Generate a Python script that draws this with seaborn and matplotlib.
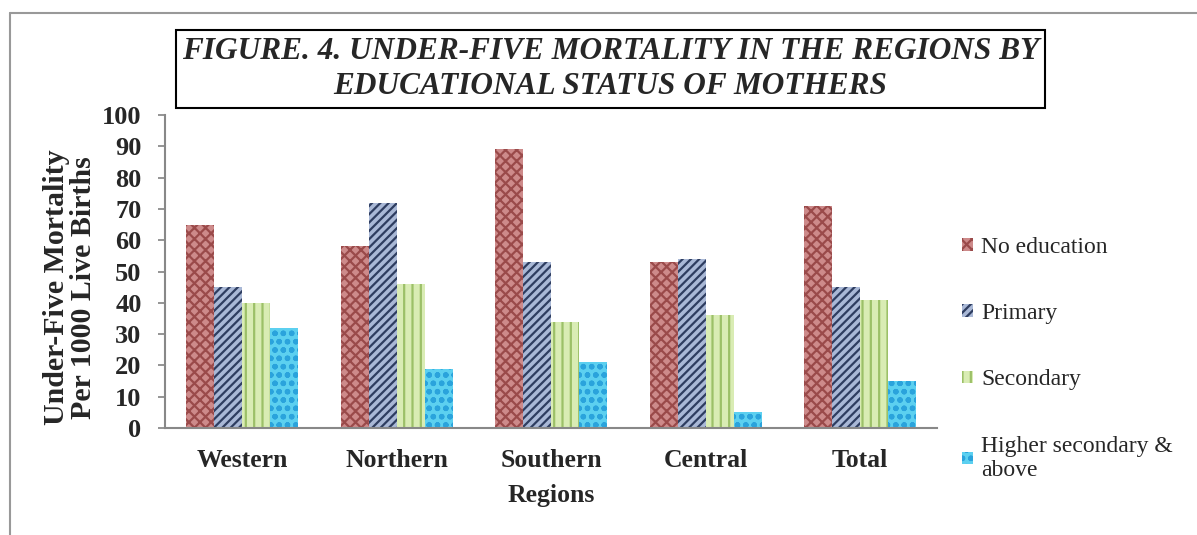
import matplotlib
matplotlib.use("Agg")
import matplotlib.pyplot as plt
import seaborn as sns
import pandas as pd
from matplotlib.lines import Line2D
from matplotlib.patches import Patch

regions = ["Western", "Northern", "Southern", "Central", "Total"]
levels = ["No education", "Primary", "Secondary", "Higher secondary &\nabove"]
no_education = [65, 58, 89, 53, 71]
primary = [45, 72, 53, 54, 45]
secondary = [40, 46, 34, 36, 41]
higher = [32, 19, 21, 5, 15]

rows = []
for lvl, vals in zip(levels, [no_education, primary, secondary, higher]):
    for r, v in zip(regions, vals):
        rows.append({"Region": r, "Level": lvl, "Value": v})
df = pd.DataFrame(rows)

sns.set_theme(style="white")
plt.rcParams["font.family"] = ["Liberation Serif", "DejaVu Serif"]
plt.rcParams["hatch.linewidth"] = 1.6

fig = plt.figure(figsize=(11.97, 5.35), dpi=100)
ax = fig.add_axes([0.138, 0.2, 0.645, 0.585])

face = ["#cd8a8a", "#a9b8d6", "#d9ecb4", "#5cd0f0"]
hatchc = ["#9a4a4a", "#2e3d60", "#9cc068", "#2aa3dc"]
hatches = ["xxx", "////", "||", "oo"]

sns.barplot(data=df, x="Region", y="Value", hue="Level", order=regions,
            hue_order=levels, width=0.725, ax=ax, legend=False,
            palette=face, saturation=1)
for i, cont in enumerate(ax.containers):
    for p in cont.patches:
        p.set_facecolor(face[i])
        p.set_edgecolor(hatchc[i])
        p.set_hatch(hatches[i])
        p.set_linewidth(0)

ax.set_ylim(0, 100)
ax.set_yticks(range(0, 101, 10))
ax.set_xlim(-0.5, 4.5)
for s in ["top", "right"]:
    ax.spines[s].set_visible(False)
for s in ["left", "bottom"]:
    ax.spines[s].set_color("#888888")
    ax.spines[s].set_linewidth(1.5)
ax.tick_params(axis="y", which="both", left=True, length=5, color="#888888",
               labelsize=19, pad=12)
ax.tick_params(axis="x", bottom=False, labelsize=18.5, pad=9)
for lab in ax.get_xticklabels() + ax.get_yticklabels():
    lab.set_fontweight("bold")
ax.set_xlabel("Regions", fontsize=18.5, fontweight="bold", labelpad=9)
ax.set_ylabel("Under-Five Mortality\nPer 1000 Live Births", fontsize=21.5,
              fontweight="bold", linespacing=1.0)
ax.yaxis.set_label_coords(-0.088, 0.45)

handles = [Patch(facecolor=face[i], edgecolor=hatchc[i], hatch=hatches[i],
                 linewidth=0) for i in range(4)]
fig.legend(handles, levels, loc="upper left", bbox_to_anchor=(0.796, 0.575),
           frameon=False, fontsize=17, handlelength=0.45, handleheight=0.45,
           handletextpad=0.35, labelspacing=1.92, borderaxespad=0)

fig.text(0.51, 0.871,
         "FIGURE. 4. UNDER-FIVE MORTALITY IN THE REGIONS BY\nEDUCATIONAL STATUS OF MOTHERS",
         ha="center", va="center", fontsize=22.5, fontweight="bold",
         fontstyle="italic", linespacing=1.3,
         bbox=dict(boxstyle="square,pad=0.2", facecolor="white",
                   edgecolor="black", linewidth=1.5))

fig.add_artist(Line2D([0.0085, 1.0], [0.976, 0.976], color="#999999", lw=1.5,
                      transform=fig.transFigure))
fig.add_artist(Line2D([0.0085, 0.0085], [0.0, 0.976], color="#999999", lw=1.5,
                      transform=fig.transFigure))

fig.savefig("out.png", dpi=100)
